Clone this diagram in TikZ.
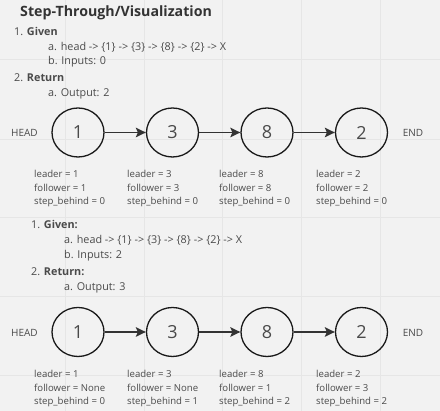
\documentclass[tikz,border=0pt]{standalone}
\usepackage{fontspec}
\setmainfont{Open Sans}
\usepackage{xcolor}
\usepackage{tikz}
\usetikzlibrary{arrows}
\usetikzlibrary{arrows.meta}
\usetikzlibrary{calc}
\usetikzlibrary{positioning}
\usetikzlibrary{shapes.geometric}

\definecolor{board}{HTML}{F2F2F2}
\definecolor{gridline}{HTML}{E6E6E6}
\definecolor{ink}{HTML}{333333}
\definecolor{softink}{HTML}{4A4A4A}

\tikzset{
  listnode/.style={anchor=west, inner sep=0pt, font=\fontsize{10.8}{12}\selectfont, text=softink},
  varnode/.style={anchor=west, inner sep=0pt, font=\fontsize{9.6}{11}\selectfont, text=softink},
  llnode/.style={ellipse, draw=black!90, line width=1.3pt, minimum width=52pt,
    minimum height=49pt, inner sep=0pt, font=\fontsize{18}{20}\selectfont, text=softink},
  endnode/.style={inner sep=0pt, font=\fontsize{10}{12}\selectfont, text=softink},
  link/.style={-{Stealth[length=10pt, width=9.5pt, inset=2pt]}, line width=1.6pt, draw=ink}
}

\begin{document}
\begin{tikzpicture}[x=1pt, y=-1pt]

    \fill [board] (0, 0) rectangle (440, 411);
    \useasboundingbox (0, 0) rectangle (440, 411);
    \foreach \gx in {65, 144, 222, 301, 380}
      \draw [gridline, line width=0.8pt] (\gx, 0) -- (\gx, 411);
    \foreach \gy in {59, 139, 217, 296, 375}
      \draw [gridline, line width=0.8pt] (0, \gy) -- (440, \gy);

    % title and first list
    \node [listnode, text=ink, font=\fontsize{14.2}{16}\selectfont\bfseries] (title) at (20, 13) {Step-Through/Visualization};
    \node [listnode] (given1) at (14, 31) {1. \textbf{Given}};
    \node [listnode] (head1) at (48, 47) {a. head -> \{1\} -> \{3\} -> \{8\} -> \{2\} -> X};
    \node [listnode] (inputs1) at (48, 62) {b. Inputs: 0};
    \node [listnode] (return1) at (14, 78) {2. \textbf{Return}};
    \node [listnode] (output1) at (48, 94) {a. Output: 2};

    % second list
    \node [listnode] (given2) at (31, 224) {1. \textbf{Given:}};
    \node [listnode] (head2) at (64, 240) {a. head -> \{1\} -> \{3\} -> \{8\} -> \{2\} -> X};
    \node [listnode] (inputs2) at (64, 256) {b. Inputs: 2};
    \node [listnode] (return2) at (31, 272) {2. \textbf{Return:}};
    \node [listnode] (output2) at (64, 288) {a. Output: 3};

    % first linked list
    \node [endnode] (headA) at (24.5, 133) {HEAD};
    \node [endnode] (endA) at (413, 133) {END};
    \foreach \val [count=\i] in {1, 3, 8, 2}
      \node [llnode] (a\i) at ({78 + 94.5*(\i-1)}, 132.5) {\val};
    \foreach \i/\j in {1/2, 2/3, 3/4}
      \draw [link] (a\i) -- (a\j);

    \foreach \lx/\ld/\fw/\sb [count=\i] in {34/1/1/0, 127/3/3/0, 219/8/8/0, 316/2/2/0} {
      \node [varnode] (leadA\i) at (\lx, 174) {leader = \ld};
      \node [varnode] (followA\i) at (\lx, 188) {follower = \fw};
      \node [varnode] (stepA\i) at (\lx, 202) {step\_behind = \sb};
    }

    % second linked list
    \node [endnode] (headB) at (24.5, 333) {HEAD};
    \node [endnode] (endB) at (413, 333) {END};
    \foreach \val [count=\i] in {1, 3, 8, 2}
      \node [llnode] (b\i) at ({78 + 94.5*(\i-1)}, 332) {\val};
    \foreach \i/\j in {1/2, 2/3, 3/4}
      \draw [link] (b\i) -- (b\j);

    \foreach \lx/\ld/\fw/\sb [count=\i] in {34/1/None/0, 127/3/None/1, 219/8/1/2, 316/2/3/2} {
      \node [varnode] (leadB\i) at (\lx, 374) {leader = \ld};
      \node [varnode] (followB\i) at (\lx, 388) {follower = \fw};
      \node [varnode] (stepB\i) at (\lx, 402) {step\_behind = \sb};
    }

  \end{tikzpicture}
\end{document}
